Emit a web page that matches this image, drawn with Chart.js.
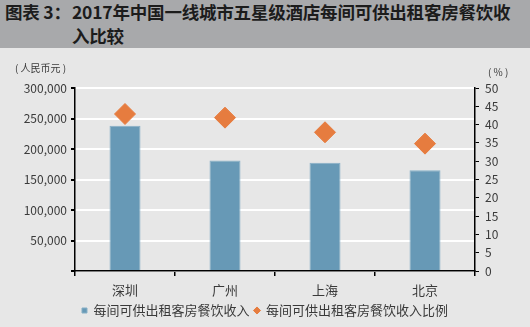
<!DOCTYPE html>
<html>
<head>
<meta charset="utf-8">
<script src="https://cdn.jsdelivr.net/npm/chart.js@4/dist/chart.umd.min.js"></script>
<style>
  html, body { margin: 0; padding: 0; }
  body { width: 530px; height: 327px; background: #e7e7e7; overflow: hidden; font-family: 'Noto Sans CJK SC', sans-serif; }
  .title { position: relative; height: 48px; background: #a8a9ab; color: #1c1c1c; font-weight: 700; font-size: 17.5px; line-height: 24px; letter-spacing: -0.2px; white-space: nowrap; }
  .title .num { position: absolute; left: 5px; top: 0; }
  .title .text { position: absolute; left: 72px; top: 0; }
  .chart { position: relative; width: 530px; height: 279px; }
</style>
</head>
<body>
<div class="title"><span class="num">图表 3：</span><span class="text">2017年中国一线城市五星级酒店每间可供出租客房餐饮收<br>入比较</span></div>
<div class="chart"><canvas id="revChart"></canvas></div>
<script>
const cities = ['深圳', '广州', '上海', '北京'];
const revenue = [238000, 181000, 177500, 165000];
const revenueShare = [42.9, 41.9, 37.9, 34.8];
const seriesNames = ['每间可供出租客房餐饮收入', '每间可供出租客房餐饮收入比例'];
const leftUnit = '( 人民币元 )';
const rightUnit = '( % )';

const FONT = "'Noto Sans CJK SC', sans-serif";
const TEXT = '#3a3a3a';

// unit captions above both value axes
const unitLabels = {
    id: 'unitLabels',
    afterDraw(chart) {
        const { ctx, chartArea } = chart;
        ctx.save();
        ctx.fillStyle = TEXT;
        ctx.font = `10px ${FONT}`;
        ctx.textBaseline = 'middle';
        ctx.textAlign = 'left';
        ctx.fillText(leftUnit, 15, chartArea.top - 20);
        ctx.fillText(rightUnit, chartArea.right + 13, chartArea.top - 16);
        ctx.restore();
    }
};

const ctx = document.getElementById('revChart').getContext('2d');
new Chart(ctx, {
    type: 'bar',
    data: {
        labels: cities,
        datasets: [
            {
                type: 'line',
                label: seriesNames[1],
                data: revenueShare,
                yAxisID: 'y1',
                showLine: false,
                pointStyle: 'rectRot',
                pointRadius: 10.5,
                pointHoverRadius: 10.5,
                pointBackgroundColor: '#e67c3f',
                pointBorderColor: '#e67c3f',
                pointBorderWidth: 1,
                backgroundColor: '#e67c3f',
                borderColor: '#e67c3f',
                order: 0,
            },
            {
                label: seriesNames[0],
                data: revenue,
                yAxisID: 'y',
                backgroundColor: '#6799b6',
                borderColor: '#86afc6',
                borderWidth: 1,
                pointStyle: 'rect',
                categoryPercentage: 1,
                barPercentage: 0.31,
                order: 1,
            },
        ],
    },
    options: {
        responsive: true,
        maintainAspectRatio: false,
        animation: false,
        layout: { padding: { top: 40, left: 0, right: 0, bottom: 0 } },
        scales: {
            x: {
                grid: { offset: true, drawOnChartArea: false, tickColor: '#000', tickLength: 5, lineWidth: 1.5 },
                border: { color: '#000', width: 1.5 },
                ticks: { color: TEXT, font: { family: FONT, size: 13 }, padding: 6 },
                afterFit(scale) { scale.height = 28; },
            },
            y: {
                position: 'left',
                min: 0,
                max: 300000,
                grid: { color: '#ffffff', lineWidth: 2, tickColor: '#000', tickLength: 4 },
                border: { color: '#000', width: 1.5 },
                ticks: {
                    stepSize: 50000,
                    color: TEXT,
                    font: { family: FONT, size: 12 },
                    padding: 4,
                    callback: v => v === 0 ? '' : v.toLocaleString('en-US'),
                },
                afterFit(scale) { scale.width = 75; },
            },
            y1: {
                position: 'right',
                min: 0,
                max: 50,
                grid: { drawOnChartArea: false, tickColor: '#000', tickLength: 4 },
                border: { color: '#000', width: 1.5 },
                ticks: { stepSize: 5, color: TEXT, font: { family: FONT, size: 12 }, padding: 6 },
                afterFit(scale) { scale.width = 55; },
            },
        },
        plugins: {
            legend: {
                position: 'bottom',
                labels: {
                    usePointStyle: true,
                    boxWidth: 5,
                    boxHeight: 5,
                    padding: 5,
                    color: TEXT,
                    font: { family: FONT, size: 13 },
                    sort: (a, b) => b.datasetIndex - a.datasetIndex,
                },
            },
            tooltip: { enabled: false },
        },
    },
    plugins: [unitLabels],
});
</script>
</body>
</html>
